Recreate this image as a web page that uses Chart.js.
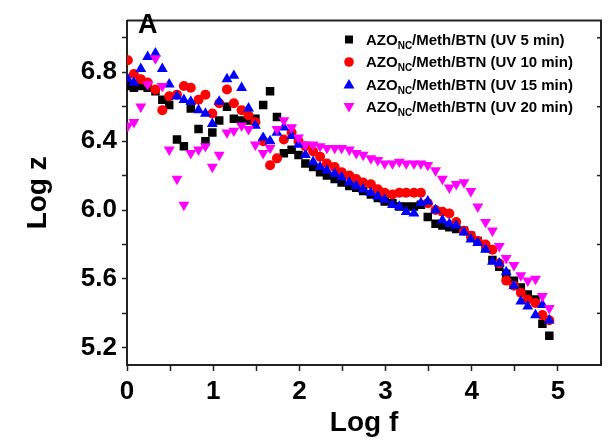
<!DOCTYPE html>
<html lang="en">
<head>
  <meta charset="UTF-8" />
  <title>Log z vs Log f</title>
  <script src="https://cdn.jsdelivr.net/npm/chart.js"></script>
  <style>
    html, body { margin: 0; padding: 0; background: #ffffff; }
    #grafico { display: block; }
  </style>
</head>
<body>
  <canvas id="grafico" width="611" height="443"></canvas>
  <script>
    // Log f positions shared by all four runs
    const logF = [0.01, 0.08, 0.16, 0.24, 0.33, 0.41, 0.49, 0.58, 0.66, 0.74,
                  0.83, 0.91, 0.99, 1.07, 1.16, 1.24, 1.33, 1.41, 1.49, 1.58,
                  1.66, 1.74, 1.82, 1.91, 1.99, 2.07, 2.16, 2.24, 2.32, 2.41,
                  2.49, 2.58, 2.66, 2.74, 2.83, 2.91, 2.99, 3.08, 3.16, 3.24,
                  3.33, 3.41, 3.49, 3.58, 3.66, 3.74, 3.82, 3.91, 3.99, 4.07,
                  4.16, 4.24, 4.32, 4.40, 4.49, 4.57, 4.65, 4.74, 4.82, 4.90];

    // Log z for each UV exposure time
    const uv5 = [6.72, 6.71, 6.72, 6.71, 6.69, 6.64, 6.61, 6.41, 6.37, 6.59,
                 6.47, 6.40, 6.45, 6.52, 6.60, 6.53, 6.52, 6.52, 6.53, 6.61,
                 6.69, 6.54, 6.33, 6.35, 6.32, 6.27, 6.25, 6.22, 6.20, 6.18,
                 6.16, 6.14, 6.13, 6.11, 6.09, 6.07, 6.05, 6.04, 6.02, 6.02,
                 6.02, 6.03, 5.96, 5.92, 5.91, 5.90, 5.89, 5.88, 5.85, 5.82,
                 5.78, 5.71, 5.67, 5.63, 5.59, 5.55, 5.51, 5.48, 5.34, 5.27];
    const uv10 = [6.87, 6.79, 6.76, 6.74, 6.70, 6.58, 6.66, 6.67, 6.72, 6.71,
                  6.64, 6.67, 6.56, 6.62, 6.70, 6.62, 6.58, 6.55, 6.51, 6.40,
                  6.26, 6.30, 6.41, 6.45, 6.40, 6.37, 6.34, 6.31, 6.27, 6.25,
                  6.22, 6.20, 6.18, 6.16, 6.15, 6.12, 6.10, 6.09, 6.10, 6.10,
                  6.10, 6.10, 6.04, 6.00, 5.99, 5.98, 5.93, 5.88, 5.85, 5.82,
                  5.80, 5.77, 5.69, 5.59, 5.56, 5.52, 5.48, 5.46, 5.39, 5.36];
    const uv15 = [6.76, 6.74, 6.82, 6.89, 6.91, 6.82, 6.73, 6.66, 6.64, 6.63,
                  6.58, 6.56, 6.50, 6.63, 6.76, 6.78, 6.71, 6.59, 6.49, 6.42,
                  6.40, 6.45, 6.48, 6.43, 6.38, 6.32, 6.28, 6.25, 6.23, 6.21,
                  6.19, 6.16, 6.14, 6.12, 6.10, 6.08, 6.06, 6.03, 6.02, 5.99,
                  5.98, 6.04, 6.05, 6.00, 5.94, 5.92, 5.91, 5.87, 5.83, 5.81,
                  5.77, 5.70, 5.69, 5.64, 5.56, 5.47, 5.44, 5.39, 5.45, 5.36];
    const uv20 = [6.49, 6.51, 6.60, 6.73, 6.88, 6.72, 6.35, 6.18, 6.03, 6.33,
                  6.35, 6.37, 6.25, 6.32, 6.45, 6.46, 6.49, 6.47, 6.38, 6.33,
                  6.36, 6.47, 6.52, 6.48, 6.42, 6.38, 6.38, 6.37, 6.36, 6.36,
                  6.36, 6.35, 6.33, 6.32, 6.30, 6.29, 6.27, 6.27, 6.28, 6.27,
                  6.27, 6.27, 6.26, 6.23, 6.18, 6.13, 6.15, 6.16, 6.11, 6.02,
                  5.93, 5.88, 5.79, 5.72, 5.68, 5.62, 5.59, 5.60, 5.50, 5.43];

    const runLabels = ['UV 5 min', 'UV 10 min', 'UV 15 min', 'UV 20 min'];
    const xTicks = [0, 0.5, 1, 1.5, 2, 2.5, 3, 3.5, 4, 4.5, 5];
    const xLabels = [0, 1, 2, 3, 4, 5];
    const yTicks = [5.2, 5.4, 5.6, 5.8, 6.0, 6.2, 6.4, 6.6, 6.8, 7.0];
    const yLabels = [5.2, 5.6, 6.0, 6.4, 6.8];

    const FONT = '"Liberation Sans", Arial, sans-serif';
    const colores = ['#000000', '#ff0000', '#0000ff', '#ff00ff'];
    const estilos = ['rect', 'circle', 'triangle', 'triangle'];
    const giros = [0, 0, 0, 180];
    const radios = [6, 5, 6.3, 6.3];

    function puntos(serie) {
      return logF.map((x, i) => ({ x: x, y: serie[i] }));
    }

    function tiene(lista, v) {
      return lista.some(t => Math.abs(t - v) < 1e-6);
    }

    // frame, right-side inner ticks, panel letter and legend with subscripts
    const extras = {
      id: 'extras',
      afterDraw(chart) {
        const ctx = chart.ctx;
        const area = chart.chartArea;
        const y = chart.scales.y;
        ctx.save();
        ctx.strokeStyle = '#222';
        ctx.lineWidth = 2;
        ctx.beginPath();
        ctx.moveTo(area.left, area.top);
        ctx.lineTo(area.right, area.top);
        ctx.lineTo(area.right, area.bottom);
        ctx.stroke();
        ctx.lineWidth = 1.5;
        yTicks.forEach(v => {
          if (tiene(yLabels, v)) return;
          const py = y.getPixelForValue(v);
          ctx.beginPath();
          ctx.moveTo(area.right, py);
          ctx.lineTo(area.right - 4, py);
          ctx.stroke();
        });

        ctx.fillStyle = '#000';
        ctx.font = 'bold 27px ' + FONT;
        ctx.textBaseline = 'alphabetic';
        ctx.textAlign = 'left';
        ctx.fillText('A', 138, 33);

        runLabels.forEach((txt, i) => {
          const my = 39.5 + i * 22.5;
          const mx = 349;
          ctx.fillStyle = colores[i];
          ctx.beginPath();
          if (i === 0) {
            ctx.rect(mx - 4, my - 4, 8, 8);
          } else if (i === 1) {
            ctx.arc(mx, my, 4.8, 0, Math.PI * 2);
          } else if (i === 2) {
            ctx.moveTo(mx, my - 5.5);
            ctx.lineTo(mx + 5.5, my + 4);
            ctx.lineTo(mx - 5.5, my + 4);
          } else {
            ctx.moveTo(mx, my + 5.5);
            ctx.lineTo(mx + 5.5, my - 4);
            ctx.lineTo(mx - 5.5, my - 4);
          }
          ctx.closePath();
          ctx.fill();

          ctx.fillStyle = '#000';
          let tx = 366;
          const base = my + 5;
          ctx.font = 'bold 15px ' + FONT;
          ctx.fillText('AZO', tx, base);
          tx += ctx.measureText('AZO').width;
          ctx.font = 'bold 10px ' + FONT;
          ctx.fillText('NC', tx, base + 4);
          tx += ctx.measureText('NC').width;
          ctx.font = 'bold 15px ' + FONT;
          ctx.fillText('/Meth/BTN (' + txt + ')', tx, base);
        });
        ctx.restore();
      }
    };

    const datasets = [uv5, uv10, uv15, uv20].map((serie, i) => ({
      label: 'AZO/Meth/BTN (' + runLabels[i] + ')',
      data: puntos(serie),
      showLine: false,
      pointStyle: estilos[i],
      pointRotation: giros[i],
      pointRadius: radios[i],
      pointHoverRadius: radios[i],
      pointBackgroundColor: colores[i],
      pointBorderColor: colores[i],
      pointBorderWidth: 0,
      order: 3 - i
    }));

    new Chart(document.getElementById('grafico'), {
      type: 'scatter',
      data: { datasets: datasets },
      options: {
        responsive: false,
        animation: false,
        layout: { padding: { top: 13, right: 10, left: 0, bottom: 0 } },
        plugins: {
          legend: { display: false },
          tooltip: { enabled: false }
        },
        scales: {
          x: {
            type: 'linear',
            min: 0,
            max: 5.5,
            afterFit: s => { s.height = 78; },
            afterBuildTicks: s => { s.ticks = xTicks.map(v => ({ value: v })); },
            border: { display: true, color: '#222', width: 2 },
            grid: { drawOnChartArea: false, drawTicks: true, tickLength: 6, tickColor: '#222', tickWidth: 1.5 },
            ticks: {
              autoSkip: false,
              maxRotation: 0,
              padding: 5,
              color: '#000',
              font: { family: FONT, size: 26, weight: 'bold' },
              callback: v => tiene(xLabels, v) ? String(v) : ''
            },
            title: {
              display: true,
              text: 'Log f',
              color: '#000',
              font: { family: FONT, size: 28, weight: 'bold' },
              padding: { top: 0, bottom: 3 }
            }
          },
          y: {
            type: 'linear',
            min: 5.1,
            max: 7.1,
            afterFit: s => { s.width = 127; },
            afterBuildTicks: s => { s.ticks = yTicks.map(v => ({ value: v })); },
            border: { display: true, color: '#222', width: 2 },
            grid: { drawOnChartArea: false, drawTicks: true, tickLength: 5, tickColor: '#222', tickWidth: 1.5 },
            ticks: {
              autoSkip: false,
              padding: 5,
              color: '#000',
              font: { family: FONT, size: 26, weight: 'bold' },
              callback: v => tiene(yLabels, v) ? v.toFixed(1) : ''
            },
            title: {
              display: true,
              text: 'Log z',
              color: '#000',
              font: { family: FONT, size: 28, weight: 'bold' },
              padding: { top: 21, bottom: 0 }
            }
          }
        }
      },
      plugins: [extras]
    });
  </script>
</body>
</html>
